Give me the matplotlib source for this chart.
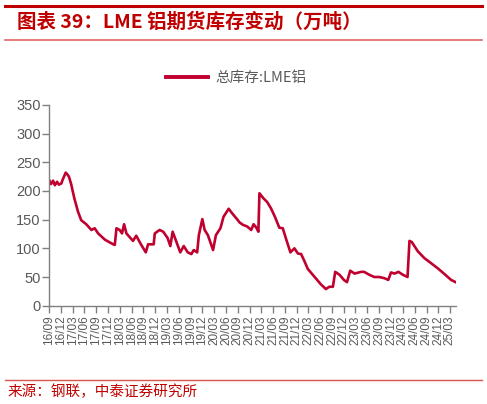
import numpy as np
import pandas as pd
import matplotlib
matplotlib.use('Agg')
import matplotlib.pyplot as plt
import matplotlib.dates as mdates
from matplotlib.lines import Line2D

plt.rcParams['font.family'] = ['Liberation Sans', 'Noto Sans CJK SC', 'DejaVu Sans']

# LME aluminium total stock (10k tonnes)
dates = ['2016-09-01', '2016-09-15', '2016-10-01', '2016-10-15', '2016-11-01', '2016-11-15',
         '2016-12-04', '2016-12-15', '2017-01-07', '2017-01-19', '2017-02-01', '2017-02-18',
         '2017-03-15', '2017-04-12', '2017-05-07', '2017-06-15', '2017-07-25', '2017-08-19',
         '2017-09-15', '2017-11-07', '2018-01-10', '2018-01-22', '2018-02-04', '2018-03-01',
         '2018-03-19', '2018-04-04', '2018-04-22', '2018-06-12', '2018-07-07', '2018-08-15',
         '2018-09-19', '2018-10-07', '2018-11-19', '2018-11-28', '2019-01-04', '2019-02-01',
         '2019-03-07', '2019-03-28', '2019-04-15', '2019-05-13', '2019-06-13', '2019-07-10',
         '2019-08-10', '2019-09-07', '2019-09-25', '2019-10-22', '2019-11-04', '2019-12-01',
         '2019-12-19', '2020-01-13', '2020-02-22', '2020-03-15', '2020-04-19', '2020-05-13',
         '2020-06-22', '2020-07-19', '2020-08-25', '2020-09-15', '2020-10-10', '2020-11-13',
         '2020-12-13', '2021-01-01', '2021-01-22', '2021-02-07', '2021-02-15', '2021-03-19',
         '2021-04-15', '2021-05-15', '2021-06-15', '2021-07-19', '2021-08-15', '2021-09-10',
         '2021-10-13', '2021-11-13', '2021-12-10', '2022-01-04', '2022-01-25', '2022-02-25',
         '2022-04-15', '2022-06-07', '2022-07-15', '2022-08-10', '2022-09-07', '2022-09-25',
         '2022-10-28', '2022-12-01', '2022-12-25', '2023-01-19', '2023-02-22', '2023-04-13',
         '2023-05-07', '2023-06-15', '2023-07-25', '2023-09-01', '2023-10-10', '2023-11-10',
         '2023-12-01', '2023-12-28', '2024-01-28', '2024-03-01', '2024-04-07', '2024-04-22',
         '2024-05-10', '2024-06-25', '2024-08-15', '2024-10-07', '2024-11-28', '2025-01-19',
         '2025-03-10', '2025-04-15']
stock = [219, 212, 218, 210, 216, 211,
         213, 220, 232, 229, 225, 212,
         187, 164, 149, 142, 132, 135,
         126, 115, 107, 106, 135, 132,
         126, 142, 126, 113, 122, 106,
         93, 107, 107, 126, 132, 129,
         118, 104, 129, 112, 93, 104,
         93, 90, 97, 93, 123, 151,
         132, 123, 97, 123, 135, 155,
         169, 161, 151, 145, 141, 138,
         132, 142, 136, 129, 196, 187,
         181, 170, 155, 136, 135, 116,
         93, 100, 91, 90, 80, 64,
         51, 37, 29, 33, 33, 59,
         54, 45, 41, 61, 56, 59,
         59, 54, 50, 50, 48, 45,
         58, 56, 59, 54, 50, 113,
         111, 95, 83, 74, 65, 55,
         45, 41]
yticks = [0, 50, 100, 150, 200, 250, 300, 350]

x = pd.to_datetime(dates)
tick_dates = pd.date_range('2016-09-01', '2025-03-01', freq='3MS')

fig = plt.figure(figsize=(4.87, 4.04), dpi=100)
ax = fig.add_axes([0.101, 0.2433, 0.835, 0.497])

line_c = '#C0002F'
grey = '#595959'
ax.plot(x, stock, color=line_c, lw=1.9, label='总库存:LME铝')

ax.set_xlim(pd.Timestamp('2016-09-01'), pd.Timestamp('2025-04-16'))
ax.set_ylim(0, 350)
ax.set_yticks(yticks)
ax.set_xticks(tick_dates)
ax.xaxis.set_major_formatter(mdates.DateFormatter('%y/%m'))
for s in ['top', 'right']:
    ax.spines[s].set_visible(False)
for s in ['left', 'bottom']:
    ax.spines[s].set_color('#808080')
    ax.spines[s].set_linewidth(1.0)
ax.tick_params(axis='both', colors='#808080', labelcolor=grey, labelsize=10.5, length=5, width=1)
ax.tick_params(axis='x', labelrotation=90, pad=2, labelsize=8.5)
ax.tick_params(axis='y', pad=1)

leg = fig.legend(loc='center', bbox_to_anchor=(0.485, 0.807), frameon=False,
                 handlelength=2.9, handletextpad=0.5,
                 prop={'family': ['Noto Sans CJK SC', 'DejaVu Sans'], 'size': 10.5})
for t in leg.get_texts():
    t.set_color(grey)
leg.get_lines()[0].set_linewidth(2.8)

# header and footer rules
fig.add_artist(Line2D([0.01, 0.99], [0.985, 0.985], color='#C00000', lw=2.2))
fig.add_artist(Line2D([0.01, 0.99], [0.9, 0.9], color='#E06666', lw=1.2))
fig.add_artist(Line2D([0.01, 0.99], [0.06, 0.06], color='#D9534F', lw=1.0))

fig.text(0.035, 0.945, '图表 39：LME 铝期货库存变动（万吨）', color='#C00000',
         fontsize=14, fontweight='bold', va='center', ha='left',
         family=['Noto Sans CJK SC', 'DejaVu Sans'])
fig.text(0.015, 0.03, '来源：钢联，中泰证券研究所', color='#C00000',
         fontsize=10.5, va='center', ha='left',
         family=['Noto Sans CJK SC', 'DejaVu Sans'])

fig.savefig('out.png', dpi=100)
